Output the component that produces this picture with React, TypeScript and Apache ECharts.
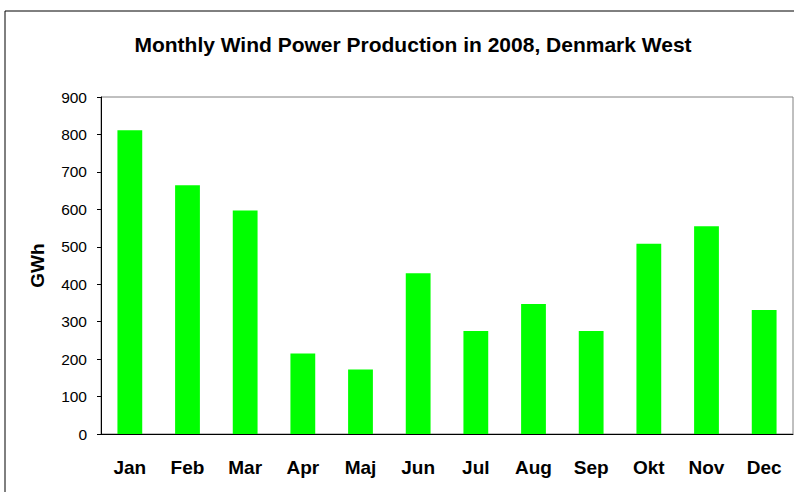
import React, { useEffect, useRef } from "react";
import * as echarts from "echarts";

const months = ["Jan", "Feb", "Mar", "Apr", "Maj", "Jun", "Jul", "Aug", "Sep", "Okt", "Nov", "Dec"];
const production = [811, 664, 597, 215, 172, 429, 275, 347, 275, 508, 555, 331];
const yTicks = { min: 0, max: 900, interval: 100 };

export default function App() {
  const ref = useRef<HTMLDivElement>(null);
  useEffect(() => {
    document.body.style.margin = "0";
    const chart = echarts.init(ref.current!, undefined, { renderer: "svg" });
    const font = "Arial, 'Liberation Sans', sans-serif";
    chart.setOption({
      animation: false,
      backgroundColor: "#ffffff",
      title: {
        text: "Monthly Wind Power Production in 2008, Denmark West",
        left: 408,
        textAlign: "center",
        top: 29,
        textStyle: { fontFamily: font, fontWeight: "bold", fontSize: 21, color: "#000" },
      },
      graphic: [
        {
          type: "rect",
          shape: { x: 5, y: 11, width: 820, height: 520 },
          style: { fill: "none", stroke: "#000", lineWidth: 1 },
          silent: true,
        },
      ],
      grid: {
        left: 101,
        top: 97,
        right: 1,
        bottom: 58,
        show: true,
        borderColor: "#808080",
        borderWidth: 1,
        containLabel: false,
      },
      xAxis: {
        type: "category",
        data: months,
        boundaryGap: true,
        axisLine: { lineStyle: { color: "#000", width: 1 } },
        axisTick: { inside: true, length: 5, lineStyle: { color: "#000" } },
        axisLabel: {
          margin: 24,
          fontFamily: font,
          fontWeight: "bold",
          fontSize: 19,
          color: "#000",
          interval: 0,
        },
        splitLine: { show: false },
      },
      yAxis: {
        type: "value",
        min: yTicks.min,
        max: yTicks.max,
        interval: yTicks.interval,
        name: "GWh",
        nameLocation: "middle",
        nameGap: 54,
        nameRotate: 90,
        nameTextStyle: { fontFamily: font, fontWeight: "bold", fontSize: 19, color: "#000" },
        axisLine: { show: true, lineStyle: { color: "#000", width: 1 } },
        axisTick: { show: true, inside: false, length: 4, lineStyle: { color: "#000" } },
        axisLabel: { margin: 14, fontFamily: font, fontSize: 15.5, color: "#000" },
        splitLine: { show: false },
      },
      series: [
        {
          type: "bar",
          data: production,
          barWidth: "43%",
          itemStyle: { color: "#00ff00" },
        },
      ],
    });
    return () => chart.dispose();
  }, []);
  return <div ref={ref} style={{ width: 794, height: 492 }} />;
}
